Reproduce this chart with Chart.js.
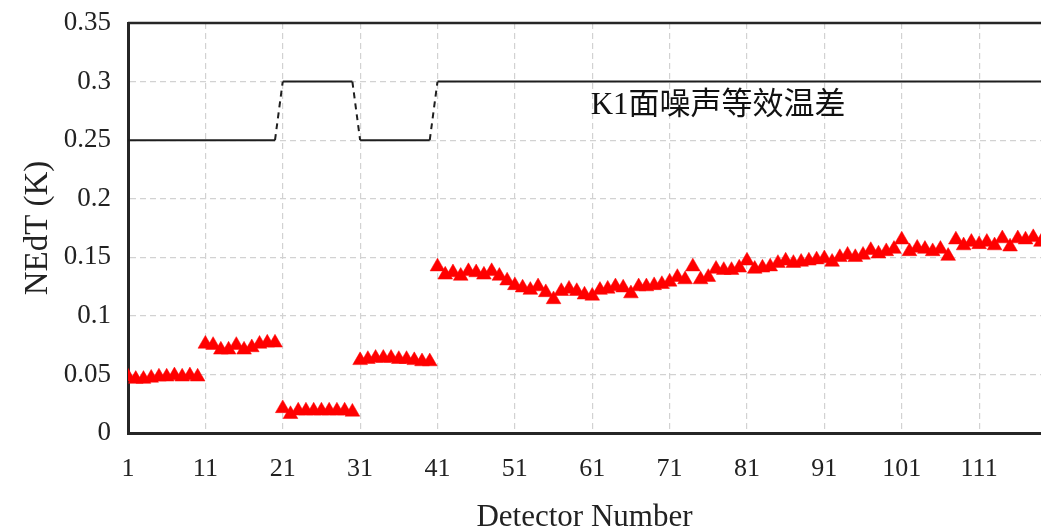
<!DOCTYPE html>
<html>
<head>
<meta charset="utf-8">
<script src="https://cdn.jsdelivr.net/npm/chart.js@4.4.1/dist/chart.umd.min.js"></script>
<style>
  html, body { margin: 0; padding: 0; background: #ffffff; overflow: hidden; }
  #wrap { width: 1041px; height: 527px; position: relative; }
</style>
</head>
<body>
<div id="wrap"><canvas id="c" width="1041" height="527"></canvas></div>
<script>
// Noise-equivalent temperature difference per detector (K), detectors 1..120
const nedtValues = [
  0.048, 0.046, 0.046, 0.047, 0.048, 0.048, 0.049, 0.048, 0.049, 0.048,
  0.076, 0.075, 0.071, 0.071, 0.075, 0.071, 0.073, 0.076, 0.077, 0.077,
  0.021, 0.016, 0.019, 0.019, 0.019, 0.019, 0.019, 0.019, 0.019, 0.018,
  0.062, 0.063, 0.064, 0.064, 0.064, 0.063, 0.063, 0.062, 0.061, 0.061,
  0.142, 0.135, 0.137, 0.134, 0.138, 0.137, 0.135, 0.138, 0.134, 0.130,
  0.126, 0.124, 0.122, 0.125, 0.120, 0.114, 0.121, 0.123, 0.121, 0.118,
  0.117, 0.122, 0.123, 0.125, 0.124, 0.119, 0.125, 0.125, 0.126, 0.127,
  0.129, 0.133, 0.131, 0.142, 0.131, 0.133, 0.140, 0.139, 0.139, 0.141,
  0.147, 0.140, 0.141, 0.142, 0.145, 0.147, 0.145, 0.146, 0.147, 0.148,
  0.149, 0.146, 0.150, 0.152, 0.150, 0.152, 0.156, 0.153, 0.155, 0.157,
  0.165, 0.155, 0.158, 0.157, 0.155, 0.157, 0.151, 0.165, 0.160, 0.163,
  0.161, 0.163, 0.160, 0.166, 0.159, 0.166, 0.165, 0.167, 0.163, 0.165
];

// Requirement threshold (K): breakpoints along the detector axis
const thresholdX = [1, 20, 21, 30, 31, 40, 41, 120];
const thresholdY = [0.25, 0.25, 0.30, 0.30, 0.25, 0.25, 0.30, 0.30];

// Axis ticks
const xTicks = [1, 11, 21, 31, 41, 51, 61, 71, 81, 91, 101, 111];
const yTicks = [0, 0.05, 0.1, 0.15, 0.2, 0.25, 0.3, 0.35];

const seriesLabel = 'K1面噪声等效温差';
const xTitle = 'Detector Number';
const yTitle = 'NEdT (K)';

const nedtPoints = nedtValues.map((v, i) => ({ x: i + 1, y: v }));
const thresholdPoints = thresholdX.map((x, i) => ({ x: x, y: thresholdY[i] }));

const serif = "'Liberation Serif', 'Times New Roman', serif";

// Solid frame line along the top of the plot and the in-plot series label
const framePlugin = {
  id: 'frameAndLabel',
  afterDatasetsDraw(chart) {
    const { ctx, chartArea, scales } = chart;
    ctx.save();
    ctx.strokeStyle = '#262626';
    ctx.lineWidth = 2.5;
    ctx.beginPath();
    ctx.moveTo(chartArea.left, chartArea.top);
    ctx.lineTo(chartArea.right, chartArea.top);
    ctx.stroke();

    ctx.fillStyle = '#111111';
    ctx.font = "31px 'Liberation Serif', 'Noto Sans CJK SC', serif";
    ctx.textBaseline = 'middle';
    ctx.textAlign = 'left';
    ctx.fillText(seriesLabel, scales.x.getPixelForValue(60.8), scales.y.getPixelForValue(0.279));
    ctx.restore();
  }
};

new Chart(document.getElementById('c'), {
  type: 'scatter',
  data: {
    datasets: [
      {
        label: 'threshold',
        data: thresholdPoints,
        showLine: true,
        borderColor: '#1e1e1e',
        borderWidth: 2,
        pointRadius: 0,
        segment: {
          borderDash: ctx => (ctx.p0.parsed.y !== ctx.p1.parsed.y ? [6, 5] : undefined)
        }
      },
      {
        label: seriesLabel,
        data: nedtPoints,
        showLine: false,
        pointStyle: 'triangle',
        pointRadius: 8.5,
        pointBackgroundColor: '#ff0000',
        pointBorderColor: '#ff0000',
        pointBorderWidth: 0.5
      }
    ]
  },
  options: {
    responsive: false,
    animation: false,
    devicePixelRatio: 1,
    layout: { autoPadding: false, padding: { top: 23, right: 0, bottom: 0, left: 0 } },
    plugins: {
      legend: { display: false },
      tooltip: { enabled: false }
    },
    scales: {
      x: {
        type: 'linear',
        min: 1,
        max: 119,
        afterBuildTicks: scale => { scale.ticks = xTicks.map(v => ({ value: v })); },
        afterFit: scale => {
          scale.height = 94;
          scale.paddingLeft = 0;
          scale.paddingRight = 0;
        },
        grid: {
          color: '#d2d2d2',
          lineWidth: 1.2,
          drawTicks: false
        },
        border: { display: true, color: '#262626', width: 3, dash: [6, 4] },
        ticks: {
          color: '#222222',
          font: { family: serif, size: 26 },
          padding: 21,
          maxRotation: 0,
          autoSkip: false
        },
        title: {
          display: true,
          text: xTitle,
          color: '#222222',
          font: { family: serif, size: 31 },
          padding: { top: 0, bottom: -9 }
        }
      },
      y: {
        type: 'linear',
        min: 0,
        max: 0.35,
        afterBuildTicks: scale => { scale.ticks = yTicks.map(v => ({ value: v })); },
        afterFit: scale => {
          scale.width = 128;
          scale.paddingTop = 0;
          scale.paddingBottom = 0;
        },
        grid: {
          color: '#d2d2d2',
          lineWidth: 1.2,
          drawTicks: false
        },
        border: { display: true, color: '#262626', width: 3, dash: [6, 4] },
        ticks: {
          color: '#222222',
          font: { family: serif, size: 27 },
          padding: 17,
          callback: v => String(Math.round(v * 100) / 100)
        },
        title: {
          display: true,
          text: yTitle,
          color: '#222222',
          font: { family: serif, size: 33 },
          padding: { top: 19, bottom: 0 }
        }
      }
    }
  },
  plugins: [framePlugin]
});
</script>
</body>
</html>
